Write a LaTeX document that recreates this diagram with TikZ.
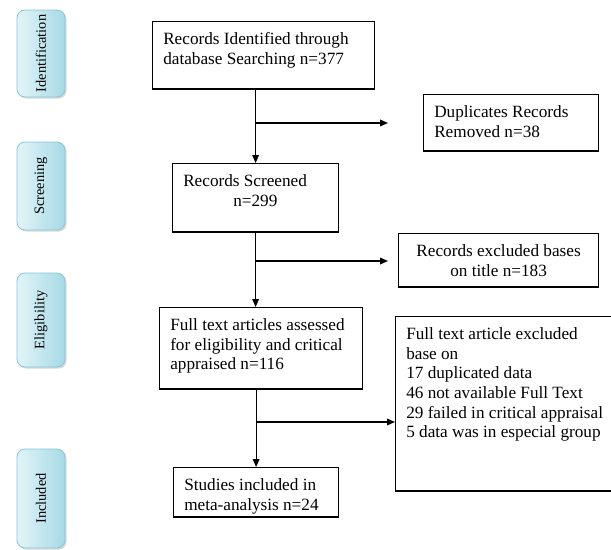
\documentclass[tikz,border=0pt]{standalone}
\usepackage{fontspec}
\setmainfont{Liberation Serif}
\usetikzlibrary{arrows.meta,shadows}

\definecolor{stagelight}{RGB}{226,244,248}
\definecolor{stagedark}{RGB}{165,217,230}
\definecolor{stageline}{RGB}{135,198,214}

% text set at the top of a box of fixed size
\newcommand{\toptext}[3]{\parbox[t][#2][t]{#1}{\raggedright #3}}

\begin{document}
\begin{tikzpicture}[x=0.75pt,y=-0.75pt,font=\rmfamily\fontsize{12.9}{14.7}\selectfont]
    \tikzstyle{stepbox}=[draw,line width=0.9pt,anchor=north west,inner xsep=8pt,inner ysep=8.3pt]
    \tikzstyle{stage}=[draw=stageline,line width=0.6pt,rounded corners=6pt,left color=stagelight,right color=stagedark,rotate=90,minimum height=36pt,inner sep=0pt,drop shadow={opacity=0.3,shadow xshift=1.2pt,shadow yshift=-1.2pt},font=\rmfamily\fontsize{10.8}{13}\selectfont]
    \tikzstyle{flow}=[line width=0.9pt,-{Triangle[length=6pt,width=5pt]}]
    \clip (0,0) rectangle (611,550);
    % stages
    \node[stage,minimum width=65.25pt] (identification) at (41,53.5) {Identification};
    \node[stage,minimum width=66pt] (screening) at (41,186) {Screening};
    \node[stage,minimum width=70.5pt] (eligibility) at (41,320) {Eligibility};
    \node[stage,minimum width=74.25pt] (included) at (41,498.5) {Included};
    % boxes
    \node[stepbox] (ident) at (152,21) {\toptext{150.5pt}{34pt}{Records Identified through\\database Searching n=377}};
    \node[stepbox] (dup) at (423,94) {\toptext{115.25pt}{25.75pt}{Duplicates Records\\Removed n=38}};
    \node[stepbox] (screen) at (172,163) {\toptext{108.5pt}{34.75pt}{Records Screened\\\hspace*{37.5pt}n=299}};
    \node[stepbox] (title) at (398,233) {\parbox[t][23.5pt][t]{134pt}{\centering Records excluded bases\\on title n=183}};
    \node[stepbox] (full) at (159,307) {\toptext{136.25pt}{44.5pt}{Full text articles assessed\\for eligibility and critical\\appraised n=116}};
    \node[stepbox] (big) at (395,316) {\toptext{160pt}{114.25pt}{Full text article excluded\\base on\\17 duplicated data\\46 not available Full Text\\29 failed in critical appraisal\\5 data was in especial group}};
    \node[stepbox] (studies) at (173,467) {\toptext{107.75pt}{20.5pt}{Studies included in\\meta-analysis n=24}};
    % connectors
    \coordinate (fork1) at (255,123);
    \coordinate (dupend) at (388,123);
    \coordinate (fork2) at (255,261);
    \coordinate (titleend) at (388,261);
    \coordinate (fork3) at (255.5,422);
    \draw[flow] (ident.south -| screen.north) -- (screen.north);
    \draw[flow] (fork1) -- (dupend);
    \draw[flow] (screen.south) -- (screen.south |- full.north);
    \draw[flow] (fork2) -- (titleend);
    \draw[flow] (full.south -| studies.north) -- (studies.north);
    \draw[flow] (fork3) -- (fork3 -| big.west);
\end{tikzpicture}
\end{document}
